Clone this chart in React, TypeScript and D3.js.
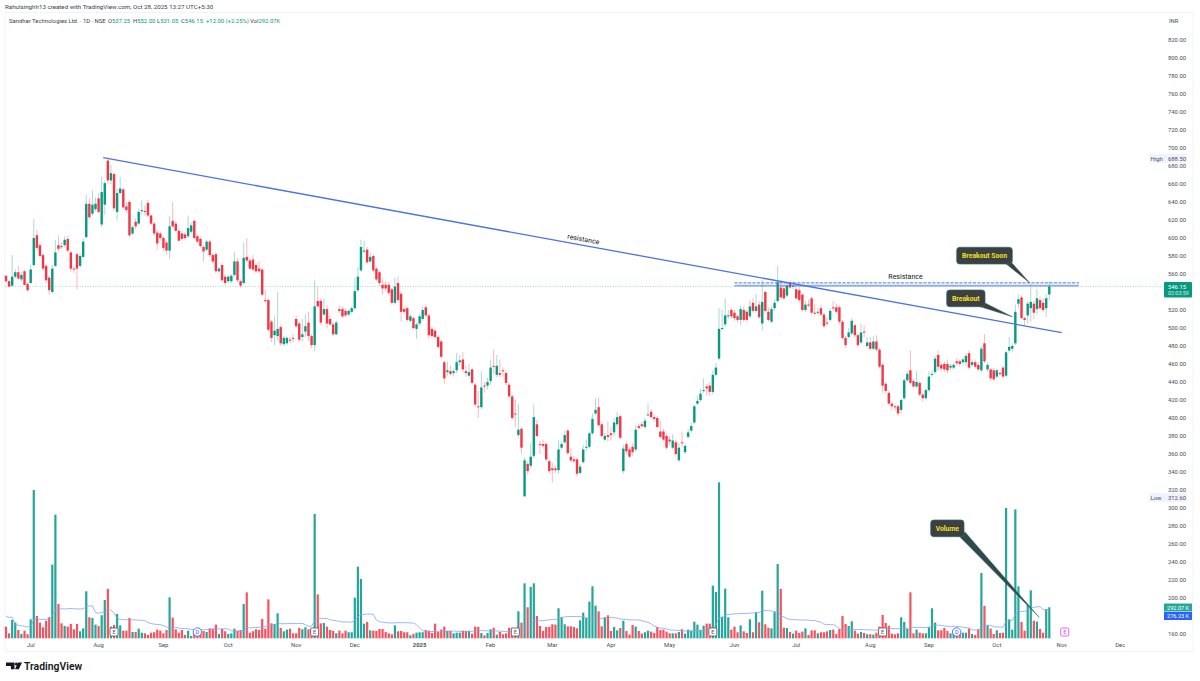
import React, { useEffect, useRef } from 'react';
import * as d3 from 'd3';

const opens = [
  558,552,547,557,562,554,563,549,550,570, 603,592,581,569,556,540,569,592,591,592,
  599,584,566,582,569,579,601,638,627,632, 644,615,637,686,664,671,629,650,654,635,
  640,605,618,616,631,630,639,625,616,606, 605,600,595,586,619,616,608,605,604,602,
  607,619,602,599,590,587,596,581,582,563, 570,557,552,552,559,574,552,550,579,575,
  576,570,566,565,531,531,507,492,491,501, 482,483,487,489,510,505,490,496,506,491,
  481,530,530,515,521,510,504,493,521,521, 519,515,518,522,542,564,585,587,574,580,
  566,562,548,548,548,543,528,550,538,521, 522,508,511,499,505,510,523,514,499,497,
  490,485,462,451,452,450,453,462,465,452, 447,454,437,413,412,436,436,441,458,448,
  450,453,450,437,424,405,381,388,313,349, 347,358,393,371,371,371,352,344,344,342,
  367,373,386,357,354,354,339,351,367,368, 383,405,412,393,376,381,383,384,393,402,
  341,371,365,368,365,391,393,390,403,407, 401,400,385,385,380,376,367,373,353,373,
  362,379,386,395,416,420,431,435,436,429, 448,466,499,504,513,520,517,513,509,520,
  518,513,528,519,526,505,540,518,507,522, 530,545,544,536,550,546,543,542,537,520,
  526,533,517,518,522,515,506,509,523,523, 523,507,489,490,494,503,492,484,496,480,
  484,477,485,476,459,438,428,416,413,413, 409,422,442,453,441,435,439,426,422,431,
  448,451,470,459,460,460,456,456,463,463, 462,462,472,459,462,459,453,483,454,454,
  453,446,450,456,447,475,477,483,527,534, 511,514,522,527,521,531,528,522,537.25,
];
const highs = [
  559,553,581,565,569,562,565,551,570,621, 609,595,583,571,558,570,598,603,595,602,
  602,586,568,584,583,600,648,644,653,645, 650,668,664,688.5,681,673,655,668,656,640,
  642,614,622,633,642,636,642,627,618,608, 607,602,597,624,640,619,610,608,607,625,
  617,621,604,601,592,598,598,583,584,568, 572,559,559,560,585,578,554,595,600,578,
  581,572,574,567,542,533,509,513,540,503, 491,491,490,493,514,507,510,515,518,493,
  553,546,533,533,525,513,506,508,525,524, 522,521,524,556,568,598,597,590,584,582,
  568,564,555,552,551,545,556,557,540,523, 524,515,513,506,515,524,526,516,501,499,
  492,487,464,463,458,455,472,470,473,458, 460,456,439,430,452,440,445,465,476,470,
  465,456,452,439,426,420,416,390,356,352, 372,415,398,375,376,373,354,350,347,376,
  374,386,388,366,358,356,349,370,376,385, 405,422,423,396,384,396,390,400,407,404,
  370,374,368,372,392,394,396,400,416,410, 404,402,397,388,383,380,382,376,372,385,
  371,388,395,415,425,432,444,438,440,453, 461,522,520,533,520,523,520,515,525,524,
  520,531,533,538,530,553,542,523,524,532, 569,553,547,549,553,552,546,546,539,530,
  531,535,527,522,526,517,512,522,530,527, 525,509,491,500,511,505,494,505,503,490,
  490,491,492,478,461,440,430,418,415,415, 422,444,452,475,443,452,441,428,433,452,
  453,469,475,461,463,465,460,461,466,465, 467,472,475,465,465,462,480,493,462,456,
  456,455,452,458,475,490,483,526,537,536, 513,530,549,530,543,535,533,538,552,
];
const lows = [
  550,545,546,555,553,552,547,541,549,568, 586,578,564,550,537,538,568,585,588,590,
  584,563,561,543,567,578,599,621,625,630, 627,612,626,660,660,630,619,648,632,628,
  601,603,610,614,626,625,623,614,602,587, 597,585,582,577,611,606,596,597,598,600,
  605,598,594,589,574,585,579,572,561,561, 551,547,550,550,557,551,545,548,573,564,
  563,561,561,535,528,496,484,481,486,480, 480,481,483,484,500,484,485,490,486,478,
  474,522,503,513,500,502,491,492,517,511, 512,513,516,520,540,562,583,571,572,562,
  552,547,537,541,537,526,526,529,507,516, 507,506,498,488,503,508,512,488,489,488,
  477,466,438,447,447,446,450,458,451,446, 445,437,413,400,410,428,432,437,449,445,
  445,446,436,422,398,390,378,360,312.6,337, 344,355,378,360,366,352,338,328,339,338,
  365,371,359,351,350,335,337,349,363,366, 381,403,390,378,374,374,375,380,390,376,
  338,359,355,358,363,387,389,388,402,399, 396,388,377,374,365,370,365,357,351,368,
  360,377,384,393,414,418,428,425,425,426, 446,464,497,501,510,510,508,506,503,507,
  507,511,517,517,510,497,517,507,505,519, 528,532,531,534,543,543,531,529,518,518,
  523,515,514,514,513,500,503,507,519,516, 505,487,478,488,492,490,479,482,490,478,
  475,475,474,455,428,427,414,409,408,402, 405,420,440,437,433,433,424,418,420,429,
  446,449,453,452,451,450,453,454,458,457, 459,458,454,457,455,452,451,461,451,441,
  441,444,447,444,445,472,473,481,522,510, 503,505,507,510,515,520,518,512,531.05,
];
const closes = [
  552,546,557,562,555,559,548,542,565,600, 589,580,566,553,542,566,584,588,590,598,
  586,566,565,566,580,596,638,623,637,638, 629,651,661,664,672,633,650,655,634,631,
  603,612,613,629,631,629,625,616,605,594, 600,589,586,613,613,608,597,599,600,611,
  614,600,596,591,585,596,581,574,563,566, 553,550,557,558,574,553,547,578,575,566,
  565,563,563,537,530,498,489,497,499,483, 489,489,486,488,502,487,493,502,491,481,
  524,524,506,521,505,504,493,506,519,513, 514,519,522,541,557,590,586,573,579,564,
  554,550,544,544,539,528,546,531,518,518, 509,513,500,504,513,520,514,492,491,490,
  479,468,444,453,449,452,462,464,454,450, 451,439,415,412,434,435,440,456,457,458,
  448,452,439,424,400,404,387,367,353,341, 357,401,380,370,369,354,341,342,342,365,
  371,381,361,353,352,338,346,365,368,383, 399,409,392,380,380,379,381,395,401,378,
  366,363,357,362,387,389,391,397,404,401, 399,390,379,376,367,374,375,360,367,372,
  369,384,391,413,419,427,431,433,429,448, 456,499,500,514,514,513,511,509,521,509,
  509,524,519,524,512,529,519,509,521,528, 551,534,533,547,545,547,533,531,520,526,
  525,517,516,518,515,502,505,519,522,518, 507,489,481,495,508,492,481,495,495,484,
  477,485,476,457,436,430,416,413,412,405, 420,442,449,439,435,440,426,422,431,446,
  449,466,457,455,454,453,458,459,461,460, 465,469,456,462,457,454,477,463,459,444,
  443,453,449,446,473,479,480,518,532,511, 509,527,529,517,533,522,520,533,546.15,
];
// volume in thousands
const volumes = [
  110,47,173,148,78,41,72,38,179,1397, 210,148,104,166,198,694,1165,323,141,116,
  110,135,85,135,66,94,443,198,192,129, 116,217,361,465,110,126,229,122,72,72,
  192,60,60,91,53,47,31,53,57,82, 72,47,78,386,195,85,53,78,31,72,
  22,63,41,53,69,60,94,91,129,41, 88,66,41,47,91,72,78,323,433,53,
  66,85,78,182,91,367,141,135,236,97, 66,82,91,47,47,97,85,104,85,94,
  1171,414,141,144,110,78,69,47,72,47, 72,57,57,383,675,559,138,154,75,72,
  69,88,88,60,47,38,122,66,69,57, 57,28,41,53,57,57,78,72,50,138,
  60,82,110,69,69,47,53,53,72,69, 69,44,110,107,50,28,50,85,100,35,
  60,38,47,100,100,82,254,148,518,292, 484,518,210,116,69,107,107,132,129,283,
  198,132,113,113,107,94,170,242,192,345, 490,308,254,113,198,217,69,107,75,97,
  166,69,35,126,110,69,44,57,72,63, 50,104,78,82,63,47,47,47,60,85,
  44,82,72,157,129,78,119,138,138,496, 436,1470,201,468,198,82,110,57,122,66,
  50,179,57,245,151,449,132,100,94,251, 700,465,100,97,60,44,72,50,63,94,
  31,75,75,47,57,57,66,78,82,41, 88,210,135,116,160,72,44,60,50,38,
  38,35,53,110,220,144,119,44,38,47, 198,154,88,433,47,82,53,47,47,104,
  283,148,75,75,97,69,47,78,31,60, 53,53,91,41,31,85,615,305,122,91,
  41,75,50,53,1228,179,82,1215,490,154, 72,314,452,166,157,88,53,273,292.07,
];
// the 19 sessions just before the window, only feed the 20 day volume average
const priorVolumes = [188,126,1570,157,188,148,157,126,126,110,157,94,141,78,126,119,110,126,126];

// 540 and 180 sit behind the last price and volume tags
const priceTicks = d3.range(160, 821, 20).filter(p => p !== 540 && p !== 180);
const monthBars = [8, 30, 51, 72, 94, 113, 134, 157, 177, 196, 215, 236, 256, 280, 299, 321, 342, 361];
const monthLabels = ['Jul', 'Aug', 'Sep', 'Oct', 'Nov', 'Dec', '2025', 'Feb', 'Mar', 'Apr', 'May', 'Jun', 'Jul', 'Aug', 'Sep', 'Oct', 'Nov', 'Dec'];
const earningsBars = [35, 100, 165, 229, 284];
const dividendBars = [62, 308];
const nextEarningsBar = 343;

const quoteKeys = ['O', 'H', 'L', 'C', '', 'Vol'];
const quoteValues = ['537.25', '552.00', '531.05', '546.15', '+12.00 (+2.25%)', '292.07K'];
const quoteLeft = [108, 133, 157, 181, 206, 250];

const lastClose = 546.15;
const resistanceTop = 550.2;
const resistanceBottom = 546.8;

const GREEN = '#089981';
const RED = '#f23645';
const VOL_GREEN = '#26a69a';
const VOL_RED = '#f7525f';
const BLUE = '#4a74e0';
const AXIS_TEXT = '#4a4e59';
const FONT = "Roboto, 'Liberation Sans', sans-serif";

export default function App() {
  const svgRef = useRef<SVGSVGElement>(null);

  useEffect(() => {
    if (!svgRef.current) return;
    const svg = d3.select(svgRef.current);
    svg.selectAll('*').remove();
    svg.style('font-family', FONT);

    const bars = d3.range(closes.length);
    const x = d3.scaleLinear().domain([0, 338]).range([6, 1049.3]);
    const y = d3.scaleLinear().domain([160, 820]).range([634, 40]);
    const yVol = d3.scaleLinear().domain([0, 1470]).range([638.3, 482.3]);

    svg.append('rect').attr('width', 1200).attr('height', 681).attr('fill', '#fff');
    svg.append('rect')
      .attr('x', 5).attr('y', 12.5).attr('width', 1188).attr('height', 639)
      .attr('fill', 'none').attr('stroke', '#f0f3fa');

    // last price line
    svg.append('line')
      .attr('x1', 5).attr('x2', 1162).attr('y1', y(lastClose)).attr('y2', y(lastClose))
      .attr('stroke', '#7fcdbd').attr('stroke-width', 0.7).attr('stroke-dasharray', '1 1.5');

    // volume
    const allVol = priorVolumes.concat(volumes);
    const ma = bars.map(i => d3.mean(allVol.slice(i, i + 20)) as number);

    svg.append('g').selectAll('rect').data(bars).enter().append('rect')
      .attr('x', i => x(i) - 1.1)
      .attr('width', 2.2)
      .attr('y', i => yVol(volumes[i]))
      .attr('height', i => yVol(0) - yVol(volumes[i]))
      .attr('fill', i => closes[i] >= opens[i] ? VOL_GREEN : VOL_RED);

    svg.append('path')
      .attr('d', d3.line<number>().x(i => x(i)).y(i => yVol(ma[i]))(bars))
      .attr('fill', 'none').attr('stroke', '#86a3ee').attr('stroke-width', 0.8);

    // candles
    const candles = svg.append('g');
    candles.selectAll('line').data(bars).enter().append('line')
      .attr('x1', i => x(i)).attr('x2', i => x(i))
      .attr('y1', i => y(highs[i])).attr('y2', i => y(lows[i]))
      .attr('stroke', i => closes[i] >= opens[i] ? GREEN : RED)
      .attr('stroke-opacity', 0.5)
      .attr('stroke-width', 0.7);
    candles.selectAll('rect').data(bars).enter().append('rect')
      .attr('x', i => x(i) - 1.2)
      .attr('width', 2.4)
      .attr('y', i => y(Math.max(opens[i], closes[i])))
      .attr('height', i => Math.max(1, Math.abs(y(opens[i]) - y(closes[i]))))
      .attr('fill', i => closes[i] >= opens[i] ? GREEN : RED);

    // drawn resistance zone and trend line
    svg.append('rect')
      .attr('x', x(236)).attr('width', x(347.6) - x(236))
      .attr('y', y(resistanceTop)).attr('height', y(resistanceBottom) - y(resistanceTop))
      .attr('fill', BLUE).attr('fill-opacity', 0.12);
    svg.append('line')
      .attr('x1', x(236)).attr('x2', x(347.6)).attr('y1', y(resistanceTop)).attr('y2', y(resistanceTop))
      .attr('stroke', BLUE).attr('stroke-width', 0.9).attr('stroke-dasharray', '3 1.5');
    svg.append('line')
      .attr('x1', x(236)).attr('x2', x(347.6)).attr('y1', y(resistanceBottom)).attr('y2', y(resistanceBottom))
      .attr('stroke', BLUE).attr('stroke-width', 0.9);
    svg.append('line')
      .attr('x1', x(31.5)).attr('y1', y(689.2)).attr('x2', x(342)).attr('y2', y(494.8))
      .attr('stroke', BLUE).attr('stroke-width', 1.3);

    svg.append('text')
      .text('resistance')
      .attr('transform', 'translate(583 241.5) rotate(10.4)')
      .attr('text-anchor', 'middle').attr('font-size', 7).attr('fill', '#131722');
    svg.append('text')
      .text('Resistance')
      .attr('x', 905.5).attr('y', 278.5)
      .attr('text-anchor', 'middle').attr('font-size', 7).attr('fill', '#131722');

    // callouts
    const callout = (
      label: string, left: number, top: number, w: number, h: number,
      tipBar: number, tipPrice: number, baseA: number[], baseB: number[], tailColor: string,
    ) => {
      const tip = [x(tipBar), y(tipPrice)];
      svg.append('path')
        .attr('d', `M${baseA[0]},${baseA[1]}L${tip[0]},${tip[1]}L${baseB[0]},${baseB[1]}Z`)
        .attr('fill', tailColor).attr('stroke', '#2f6b66').attr('stroke-width', 0.5);
      svg.append('rect')
        .attr('x', left).attr('y', top).attr('width', w).attr('height', h).attr('rx', 3)
        .attr('fill', '#3c4043').attr('stroke', '#2f6b66').attr('stroke-width', 0.7);
      svg.append('text')
        .text(label)
        .attr('x', left + w / 2).attr('y', top + h / 2 + 2.4)
        .attr('text-anchor', 'middle').attr('font-size', 6.8).attr('font-weight', 700)
        .attr('fill', '#f2e21b');
    };
    callout('Breakout Soon', 956.7, 247.3, 55.6, 16.7, 331.7, 550, [1005, 263], [1012, 263], '#3c4043');
    callout('Breakout', 946.7, 290, 38.3, 16.7, 326, 512.6, [978, 306], [985, 303], '#3c4043');
    callout('Volume', 930.7, 520, 33.3, 16.7, 334.7, 178.6, [959, 536], [965, 532], '#2e4a4a');

    // earnings and dividend flags
    const flags = svg.append('g');
    earningsBars.forEach(b => {
      flags.append('rect')
        .attr('x', x(b) - 4).attr('y', 628).attr('width', 8).attr('height', 8).attr('rx', 1)
        .attr('fill', '#fff').attr('stroke', '#50535e').attr('stroke-width', 0.8);
      flags.append('text')
        .text('E').attr('x', x(b)).attr('y', 634)
        .attr('text-anchor', 'middle').attr('font-size', 5.5).attr('fill', '#50535e');
    });
    dividendBars.forEach(b => {
      flags.append('circle')
        .attr('cx', x(b)).attr('cy', 632).attr('r', 4.2)
        .attr('fill', '#fff').attr('stroke', '#2962ff').attr('stroke-width', 0.8);
      flags.append('text')
        .text('D').attr('x', x(b)).attr('y', 634)
        .attr('text-anchor', 'middle').attr('font-size', 5.5).attr('fill', '#2962ff');
    });
    flags.append('rect')
      .attr('x', x(nextEarningsBar) - 4).attr('y', 628).attr('width', 8).attr('height', 8).attr('rx', 1)
      .attr('fill', '#fff').attr('stroke', '#e040fb').attr('stroke-width', 0.8);
    flags.append('text')
      .text('E').attr('x', x(nextEarningsBar)).attr('y', 634)
      .attr('text-anchor', 'middle').attr('font-size', 5.5).attr('fill', '#e040fb');

    // price axis
    const axis = svg.append('g').attr('font-size', 5.9).attr('fill', AXIS_TEXT);
    axis.selectAll('text').data(priceTicks).enter().append('text')
      .text(d => d3.format('.2f')(d))
      .attr('x', 1168)
      .attr('y', d => y(d) + 2.2);
    axis.append('text').text('INR').attr('x', 1169).attr('y', 23);

    // high / low labels
    const sideLabel = (name: string, val: string, cy: number) => {
      svg.append('rect').attr('x', 1149).attr('y', cy - 4.5).attr('width', 38).attr('height', 9)
        .attr('fill', '#e8eefc').attr('fill-opacity', 0.7);
      svg.append('text').text(name).attr('x', 1150.5).attr('y', cy + 2.2)
        .attr('font-size', 5.9).attr('fill', AXIS_TEXT);
      svg.append('text').text(val).attr('x', 1168).attr('y', cy + 2.2)
        .attr('font-size', 5.9).attr('fill', AXIS_TEXT);
    };
    sideLabel('High', '688.50', 158.5);
    sideLabel('Low', '312.60', 497.5);

    // last price and volume tags
    svg.append('rect').attr('x', 1164).attr('y', y(lastClose) - 4.5).attr('width', 28).attr('height', 15.5)
      .attr('fill', GREEN).attr('rx', 1);
    svg.append('text').text('546.15').attr('x', 1168).attr('y', y(lastClose) + 2.2)
      .attr('font-size', 5.9).attr('fill', '#fff');
    svg.append('text').text('02:03:59').attr('x', 1168).attr('y', y(lastClose) + 8.8)
      .attr('font-size', 5.4).attr('fill', '#d5f0ea');
    svg.append('rect').attr('x', 1164).attr('y', 603.5).attr('width', 28).attr('height', 8).attr('fill', VOL_GREEN);
    svg.append('text').text('292.07 K').attr('x', 1167).attr('y', 609.6)
      .attr('font-size', 5.6).attr('fill', '#fff');
    svg.append('rect').attr('x', 1164).attr('y', 612).attr('width', 28).attr('height', 8).attr('fill', '#2962ff');
    svg.append('text').text('276.23 K').attr('x', 1167).attr('y', 618.1)
      .attr('font-size', 5.6).attr('fill', '#fff');

    // time axis
    svg.append('g').selectAll('text').data(monthBars).enter().append('text')
      .text((_, i) => monthLabels[i])
      .attr('x', d => x(d))
      .attr('y', 647.3)
      .attr('text-anchor', 'middle')
      .attr('font-size', 5.9)
      .attr('font-weight', (_, i) => monthLabels[i] === '2025' ? 700 : 400)
      .attr('fill', AXIS_TEXT);

    // header
    svg.append('text')
      .text('Rahulsinghh13 created with TradingView.com, Oct 28, 2025 13:27 UTC+5:30')
      .attr('x', 5).attr('y', 9).attr('font-size', 6.2).attr('fill', '#3a3e48');
    svg.append('text')
      .text('Sandhar Technologies Ltd. · 1D · NSE')
      .attr('x', 9).attr('y', 22.5).attr('font-size', 5.9).attr('fill', '#3a3e48');
    quoteValues.forEach((v, i) => {
      const t = svg.append('text').attr('x', quoteLeft[i]).attr('y', 22.5).attr('font-size', 5.9).attr('fill', '#3a3e48');
      t.append('tspan').text(quoteKeys[i]);
      t.append('tspan').text(v).attr('fill', GREEN);
    });

    // logo
    const logo = svg.append('g').attr('fill', '#131722');
    logo.append('path').attr('d', 'M6,662.5h8.5v6.8h-3.6v-3.4H6Z');
    logo.append('circle').attr('cx', 16.3).attr('cy', 664).attr('r', 1.5);
    logo.append('path').attr('d', 'M15,669.3L18,662.5H22L18.8,669.3Z');
    logo.append('text').text('TradingView')
      .attr('x', 24).attr('y', 670)
      .attr('font-size', 10.4).attr('font-weight', 600);
  }, []);

  return (
    <svg
      ref={svgRef}
      width={1200}
      height={681}
      style={{ position: 'absolute', left: 0, top: 0, display: 'block' }}
    />
  );
}
